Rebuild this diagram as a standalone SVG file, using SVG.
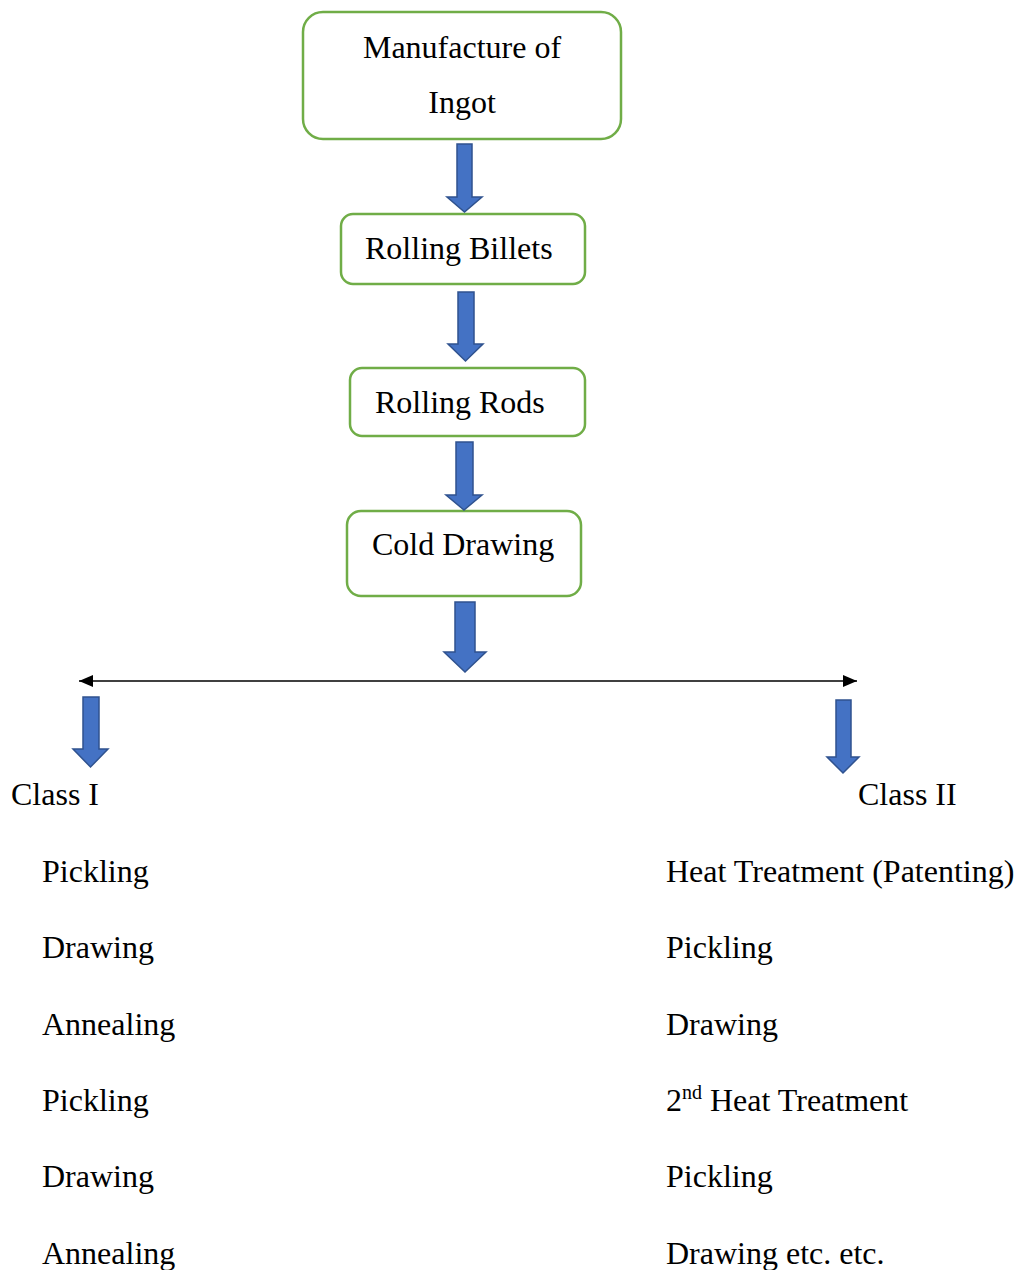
<svg xmlns="http://www.w3.org/2000/svg" width="1021" height="1270" viewBox="0 0 1021 1270">
<style>
.box{fill:#fff;stroke:#70AD47;stroke-width:2.5}
.blk{fill:#4472C4;stroke:#2F528F;stroke-width:1.5}
text{font-family:"Liberation Serif","Times New Roman",serif;font-size:32px;fill:#000}
.c{text-anchor:middle}
</style>
<defs>
<marker id="ah" markerWidth="14" markerHeight="12" refX="14" refY="6" orient="auto-start-reverse" markerUnits="userSpaceOnUse">
<path d="M0,0 L14,6 L0,12 Z" fill="#000"/>
</marker>
</defs>
<rect width="1021" height="1270" fill="#fff"/>
<g id="n1"><rect class="box" x="303" y="12" width="318" height="127" rx="20"/>
<text class="c" x="462" y="58">Manufacture of</text><text class="c" x="462" y="113">Ingot</text></g>
<g id="n2"><rect class="box" x="341" y="214" width="244" height="70" rx="12"/>
<text x="365" y="259">Rolling Billets</text></g>
<g id="n3"><rect class="box" x="350" y="368" width="235" height="68" rx="12"/>
<text x="375" y="413">Rolling Rods</text></g>
<g id="n4"><rect class="box" x="347" y="511" width="234" height="85" rx="14"/>
<text x="372" y="555">Cold Drawing</text></g>
<g id="connectors">
<path class="blk" d="M457,144 H472 V197 H482 L464.5,212 L447,197 H457 Z"/>
<path class="blk" d="M458,292 H474 V344 H483 L465.5,361 L448,344 H458 Z"/>
<path class="blk" d="M456,442 H473 V495 H482 L464,510 L446,495 H456 Z"/>
<path class="blk" d="M455,602 H475 V652 H486 L465,672 L444,652 H455 Z"/>
<line x1="79" y1="681" x2="857" y2="681" stroke="#000" stroke-width="1.5" marker-start="url(#ah)" marker-end="url(#ah)"/>
<path class="blk" d="M83,697 H99 V749 H108 L90.5,767 L73,749 H83 Z"/>
<path class="blk" d="M836,700 H851 V757 H859 L843,773 L827,757 H836 Z"/>
</g>
<g id="class1">
<text x="11" y="805">Class I</text>
<text x="42" y="882">Pickling</text>
<text x="42" y="958">Drawing</text>
<text x="42" y="1035">Annealing</text>
<text x="42" y="1111">Pickling</text>
<text x="42" y="1187">Drawing</text>
<text x="42" y="1264">Annealing</text>
</g>
<g id="class2">
<text x="858" y="805">Class II</text>
<text x="666" y="882">Heat Treatment (Patenting)</text>
<text x="666" y="958">Pickling</text>
<text x="666" y="1035">Drawing</text>
<text x="666" y="1111">2<tspan font-size="20" dy="-12">nd</tspan><tspan dy="12"> Heat Treatment</tspan></text>
<text x="666" y="1187">Pickling</text>
<text x="666" y="1264">Drawing etc. etc.</text>
</g>
</svg>
